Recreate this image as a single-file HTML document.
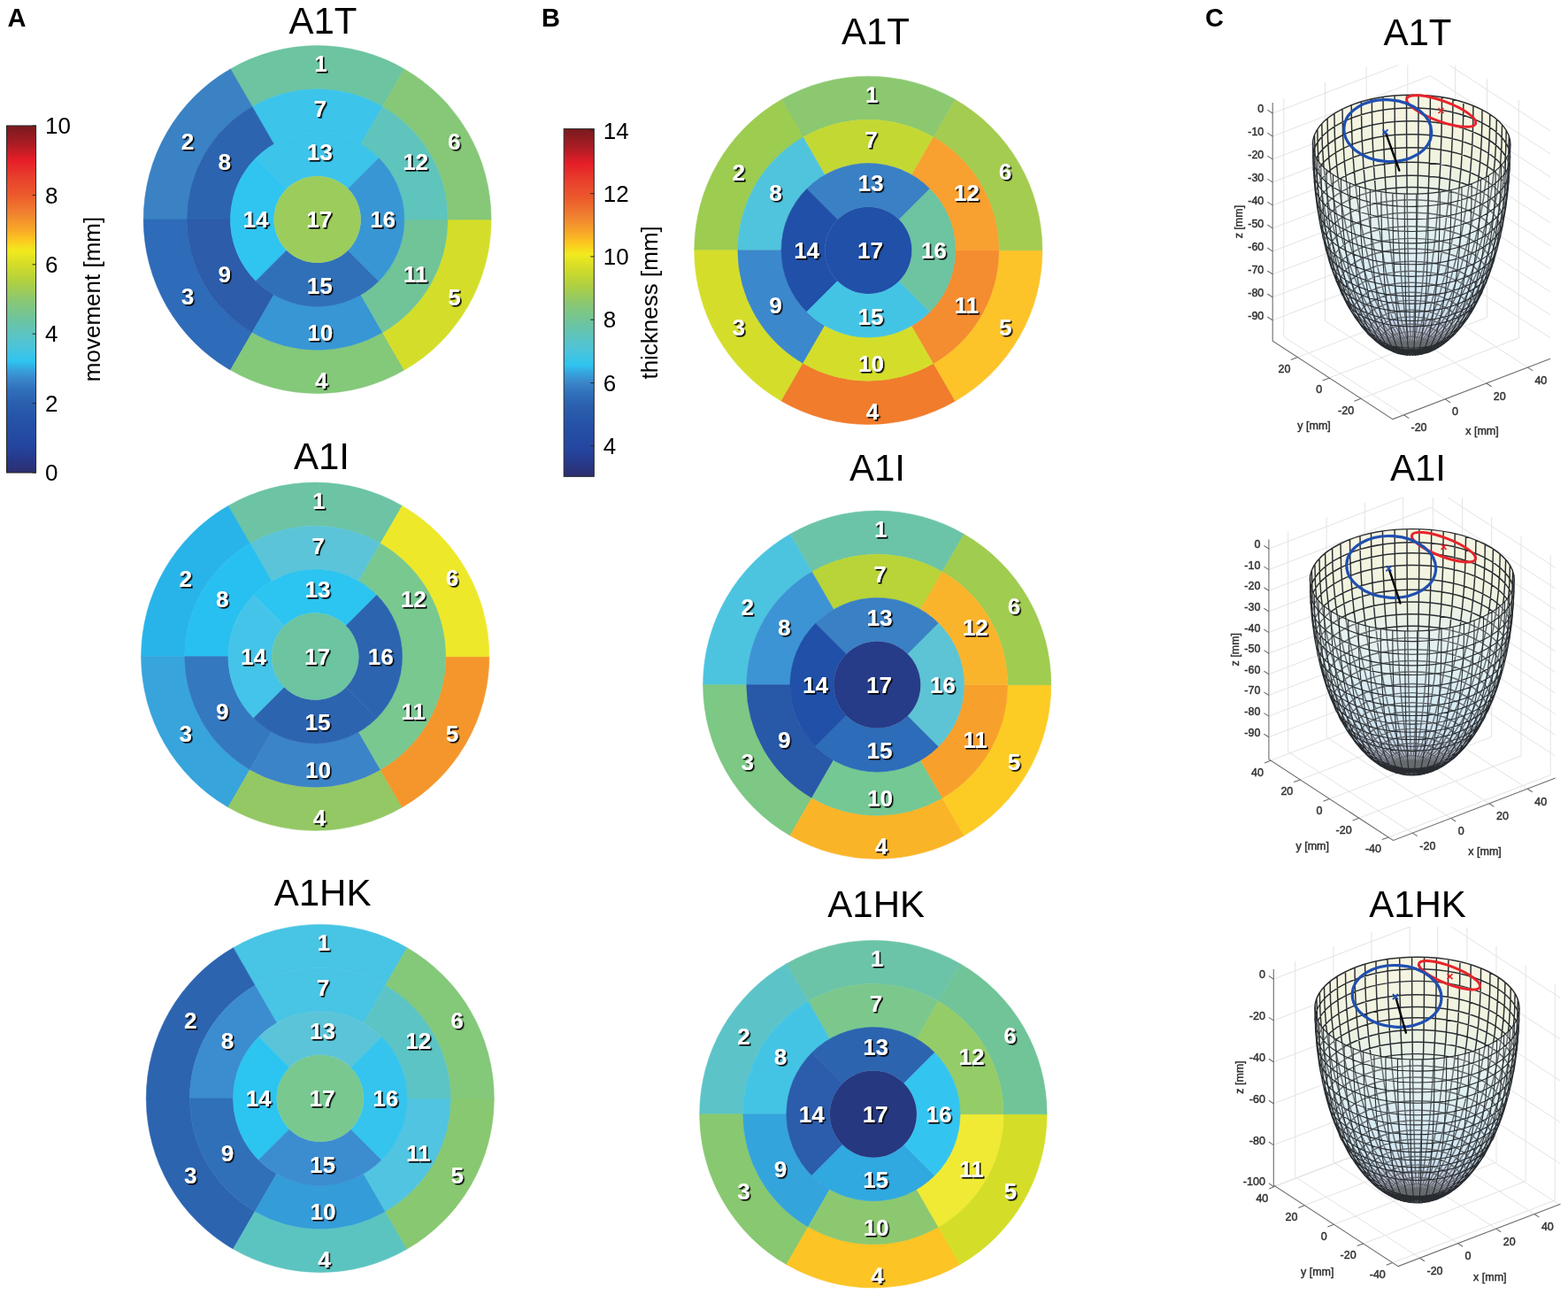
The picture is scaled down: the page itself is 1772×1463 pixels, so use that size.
<!DOCTYPE html><html><head><meta charset="utf-8"><style>
html,body{margin:0;padding:0;background:#fff;}
svg{display:block;}
.lab{font-family:"Liberation Sans",Arial,sans-serif;font-size:26px;font-weight:bold;fill:#fff;text-anchor:middle;
     paint-order:normal;filter:url(#sh);}
.tit{font-family:"Liberation Sans",Arial,sans-serif;font-size:42px;fill:#000;text-anchor:middle;}
.pl{font-family:"Liberation Sans",Arial,sans-serif;font-size:29px;font-weight:bold;fill:#000;}
.tick{font-family:"Liberation Sans",Arial,sans-serif;font-size:26px;fill:#000;}
.ax{font-family:"Liberation Sans",Arial,sans-serif;font-size:12.5px;fill:#303030;stroke:#303030;stroke-width:0.45px;}
</style></head><body><svg width="1772" height="1463" viewBox="0 0 1772 1463">
<defs><filter id="sh" x="-20%" y="-20%" width="140%" height="140%"><feDropShadow dx="1.6" dy="1.6" stdDeviation="0.5" flood-color="#000" flood-opacity="1"/></filter></defs><rect width="100%" height="100%" fill="#ffffff"/>
<text x="8.5" y="30.3" class="pl">A</text>
<text x="612" y="30.3" class="pl">B</text>
<text x="1362" y="30.3" class="pl">C</text>
<path d="M456.85,77.91A196.40,196.40 0 0 0 260.45,77.91L285.00,120.43A147.30,147.30 0 0 1 432.30,120.43Z" fill="#6cc4a0" stroke="#6cc4a0" stroke-width="0.6"/>
<path d="M260.45,77.91A196.40,196.40 0 0 0 162.25,248.00L211.35,248.00A147.30,147.30 0 0 1 285.00,120.43Z" fill="#3a82c4" stroke="#3a82c4" stroke-width="0.6"/>
<path d="M162.25,248.00A196.40,196.40 0 0 0 260.45,418.09L285.00,375.57A147.30,147.30 0 0 1 211.35,248.00Z" fill="#2e6bb8" stroke="#2e6bb8" stroke-width="0.6"/>
<path d="M260.45,418.09A196.40,196.40 0 0 0 456.85,418.09L432.30,375.57A147.30,147.30 0 0 1 285.00,375.57Z" fill="#84c87a" stroke="#84c87a" stroke-width="0.6"/>
<path d="M456.85,418.09A196.40,196.40 0 0 0 555.05,248.00L505.95,248.00A147.30,147.30 0 0 1 432.30,375.57Z" fill="#d4de2a" stroke="#d4de2a" stroke-width="0.6"/>
<path d="M555.05,248.00A196.40,196.40 0 0 0 456.85,77.91L432.30,120.43A147.30,147.30 0 0 1 505.95,248.00Z" fill="#86c878" stroke="#86c878" stroke-width="0.6"/>
<path d="M432.30,120.43A147.30,147.30 0 0 0 285.00,120.43L309.55,162.96A98.20,98.20 0 0 1 407.75,162.96Z" fill="#3cc4ea" stroke="#3cc4ea" stroke-width="0.6"/>
<path d="M285.00,120.43A147.30,147.30 0 0 0 211.35,248.00L260.45,248.00A98.20,98.20 0 0 1 309.55,162.96Z" fill="#2c64b0" stroke="#2c64b0" stroke-width="0.6"/>
<path d="M211.35,248.00A147.30,147.30 0 0 0 285.00,375.57L309.55,333.04A98.20,98.20 0 0 1 260.45,248.00Z" fill="#2c5caa" stroke="#2c5caa" stroke-width="0.6"/>
<path d="M285.00,375.57A147.30,147.30 0 0 0 432.30,375.57L407.75,333.04A98.20,98.20 0 0 1 309.55,333.04Z" fill="#3896d4" stroke="#3896d4" stroke-width="0.6"/>
<path d="M432.30,375.57A147.30,147.30 0 0 0 505.95,248.00L456.85,248.00A98.20,98.20 0 0 1 407.75,333.04Z" fill="#70c498" stroke="#70c498" stroke-width="0.6"/>
<path d="M505.95,248.00A147.30,147.30 0 0 0 432.30,120.43L407.75,162.96A98.20,98.20 0 0 1 456.85,248.00Z" fill="#5ec4bc" stroke="#5ec4bc" stroke-width="0.6"/>
<path d="M428.09,178.56A98.20,98.20 0 0 0 289.21,178.56L323.93,213.28A49.10,49.10 0 0 1 393.37,213.28Z" fill="#3cc4ea" stroke="#3cc4ea" stroke-width="0.6"/>
<path d="M289.21,178.56A98.20,98.20 0 0 0 289.21,317.44L323.93,282.72A49.10,49.10 0 0 1 323.93,213.28Z" fill="#30c4f0" stroke="#30c4f0" stroke-width="0.6"/>
<path d="M289.21,317.44A98.20,98.20 0 0 0 428.09,317.44L393.37,282.72A49.10,49.10 0 0 1 323.93,282.72Z" fill="#3070b8" stroke="#3070b8" stroke-width="0.6"/>
<path d="M428.09,317.44A98.20,98.20 0 0 0 428.09,178.56L393.37,213.28A49.10,49.10 0 0 1 393.37,282.72Z" fill="#3896d4" stroke="#3896d4" stroke-width="0.6"/>
<circle cx="358.65" cy="248.00" r="49.10" fill="#9ccc5c"/>
<text x="362.6" y="81.3" class="lab">1</text>
<text x="212.1" y="169.3" class="lab">2</text>
<text x="212.1" y="343.8" class="lab">3</text>
<text x="363.3" y="438.8" class="lab">4</text>
<text x="513.5" y="344.5" class="lab">5</text>
<text x="513.3" y="168.6" class="lab">6</text>
<text x="361.8" y="131.8" class="lab">7</text>
<text x="253.7" y="191.9" class="lab">8</text>
<text x="253.7" y="318.8" class="lab">9</text>
<text x="361.8" y="384.9" class="lab">10</text>
<text x="469.5" y="318.9" class="lab">11</text>
<text x="469.6" y="191.8" class="lab">12</text>
<text x="361.3" y="181.2" class="lab">13</text>
<text x="288.9" y="257.4" class="lab">14</text>
<text x="361.3" y="331.7" class="lab">15</text>
<text x="432.6" y="257.4" class="lab">16</text>
<text x="360.8" y="257.3" class="lab">17</text>
<path d="M454.50,571.44A196.60,196.60 0 0 0 257.90,571.44L282.48,614.00A147.45,147.45 0 0 1 429.93,614.00Z" fill="#6cc4a4" stroke="#6cc4a4" stroke-width="0.6"/>
<path d="M257.90,571.44A196.60,196.60 0 0 0 159.60,741.70L208.75,741.70A147.45,147.45 0 0 1 282.48,614.00Z" fill="#28b4e8" stroke="#28b4e8" stroke-width="0.6"/>
<path d="M159.60,741.70A196.60,196.60 0 0 0 257.90,911.96L282.47,869.40A147.45,147.45 0 0 1 208.75,741.70Z" fill="#38a4dc" stroke="#38a4dc" stroke-width="0.6"/>
<path d="M257.90,911.96A196.60,196.60 0 0 0 454.50,911.96L429.93,869.40A147.45,147.45 0 0 1 282.47,869.40Z" fill="#94c864" stroke="#94c864" stroke-width="0.6"/>
<path d="M454.50,911.96A196.60,196.60 0 0 0 552.80,741.70L503.65,741.70A147.45,147.45 0 0 1 429.93,869.40Z" fill="#f4962c" stroke="#f4962c" stroke-width="0.6"/>
<path d="M552.80,741.70A196.60,196.60 0 0 0 454.50,571.44L429.93,614.00A147.45,147.45 0 0 1 503.65,741.70Z" fill="#eee82a" stroke="#eee82a" stroke-width="0.6"/>
<path d="M429.93,614.00A147.45,147.45 0 0 0 282.48,614.00L307.05,656.57A98.30,98.30 0 0 1 405.35,656.57Z" fill="#5cc4d8" stroke="#5cc4d8" stroke-width="0.6"/>
<path d="M282.48,614.00A147.45,147.45 0 0 0 208.75,741.70L257.90,741.70A98.30,98.30 0 0 1 307.05,656.57Z" fill="#28c0f0" stroke="#28c0f0" stroke-width="0.6"/>
<path d="M208.75,741.70A147.45,147.45 0 0 0 282.47,869.40L307.05,826.83A98.30,98.30 0 0 1 257.90,741.70Z" fill="#3478c0" stroke="#3478c0" stroke-width="0.6"/>
<path d="M282.47,869.40A147.45,147.45 0 0 0 429.93,869.40L405.35,826.83A98.30,98.30 0 0 1 307.05,826.83Z" fill="#3c84c8" stroke="#3c84c8" stroke-width="0.6"/>
<path d="M429.93,869.40A147.45,147.45 0 0 0 503.65,741.70L454.50,741.70A98.30,98.30 0 0 1 405.35,826.83Z" fill="#78c890" stroke="#78c890" stroke-width="0.6"/>
<path d="M503.65,741.70A147.45,147.45 0 0 0 429.93,614.00L405.35,656.57A98.30,98.30 0 0 1 454.50,741.70Z" fill="#78c890" stroke="#78c890" stroke-width="0.6"/>
<path d="M425.71,672.19A98.30,98.30 0 0 0 286.69,672.19L321.45,706.95A49.15,49.15 0 0 1 390.95,706.95Z" fill="#2cc4f0" stroke="#2cc4f0" stroke-width="0.6"/>
<path d="M286.69,672.19A98.30,98.30 0 0 0 286.69,811.21L321.45,776.45A49.15,49.15 0 0 1 321.45,706.95Z" fill="#44c4e8" stroke="#44c4e8" stroke-width="0.6"/>
<path d="M286.69,811.21A98.30,98.30 0 0 0 425.71,811.21L390.95,776.45A49.15,49.15 0 0 1 321.45,776.45Z" fill="#2c64b0" stroke="#2c64b0" stroke-width="0.6"/>
<path d="M425.71,811.21A98.30,98.30 0 0 0 425.71,672.19L390.95,706.95A49.15,49.15 0 0 1 390.95,776.45Z" fill="#2c64b0" stroke="#2c64b0" stroke-width="0.6"/>
<circle cx="356.20" cy="741.70" r="49.15" fill="#6cc4a0"/>
<text x="360.2" y="575.0" class="lab">1</text>
<text x="209.7" y="663.0" class="lab">2</text>
<text x="209.7" y="837.5" class="lab">3</text>
<text x="360.9" y="932.5" class="lab">4</text>
<text x="511.1" y="838.2" class="lab">5</text>
<text x="510.9" y="662.3" class="lab">6</text>
<text x="359.4" y="625.5" class="lab">7</text>
<text x="251.3" y="685.6" class="lab">8</text>
<text x="251.3" y="812.5" class="lab">9</text>
<text x="359.4" y="878.6" class="lab">10</text>
<text x="467.1" y="812.6" class="lab">11</text>
<text x="467.2" y="685.5" class="lab">12</text>
<text x="358.9" y="674.9" class="lab">13</text>
<text x="286.5" y="751.1" class="lab">14</text>
<text x="358.9" y="825.4" class="lab">15</text>
<text x="430.2" y="751.1" class="lab">16</text>
<text x="358.4" y="751.0" class="lab">17</text>
<path d="M460.05,1070.73A196.50,196.50 0 0 0 263.55,1070.73L288.11,1113.27A147.38,147.38 0 0 1 435.49,1113.27Z" fill="#48c4e4" stroke="#48c4e4" stroke-width="0.6"/>
<path d="M263.55,1070.73A196.50,196.50 0 0 0 165.30,1240.90L214.43,1240.90A147.38,147.38 0 0 1 288.11,1113.27Z" fill="#2c64b0" stroke="#2c64b0" stroke-width="0.6"/>
<path d="M165.30,1240.90A196.50,196.50 0 0 0 263.55,1411.07L288.11,1368.53A147.38,147.38 0 0 1 214.43,1240.90Z" fill="#2c64b0" stroke="#2c64b0" stroke-width="0.6"/>
<path d="M263.55,1411.07A196.50,196.50 0 0 0 460.05,1411.07L435.49,1368.53A147.38,147.38 0 0 1 288.11,1368.53Z" fill="#5cc4c0" stroke="#5cc4c0" stroke-width="0.6"/>
<path d="M460.05,1411.07A196.50,196.50 0 0 0 558.30,1240.90L509.18,1240.90A147.38,147.38 0 0 1 435.49,1368.53Z" fill="#88c870" stroke="#88c870" stroke-width="0.6"/>
<path d="M558.30,1240.90A196.50,196.50 0 0 0 460.05,1070.73L435.49,1113.27A147.38,147.38 0 0 1 509.18,1240.90Z" fill="#84c87a" stroke="#84c87a" stroke-width="0.6"/>
<path d="M435.49,1113.27A147.38,147.38 0 0 0 288.11,1113.27L312.68,1155.81A98.25,98.25 0 0 1 410.93,1155.81Z" fill="#48c4e4" stroke="#48c4e4" stroke-width="0.6"/>
<path d="M288.11,1113.27A147.38,147.38 0 0 0 214.43,1240.90L263.55,1240.90A98.25,98.25 0 0 1 312.68,1155.81Z" fill="#3c8cd0" stroke="#3c8cd0" stroke-width="0.6"/>
<path d="M214.43,1240.90A147.38,147.38 0 0 0 288.11,1368.53L312.67,1325.99A98.25,98.25 0 0 1 263.55,1240.90Z" fill="#3070b8" stroke="#3070b8" stroke-width="0.6"/>
<path d="M288.11,1368.53A147.38,147.38 0 0 0 435.49,1368.53L410.93,1325.99A98.25,98.25 0 0 1 312.67,1325.99Z" fill="#349cd8" stroke="#349cd8" stroke-width="0.6"/>
<path d="M435.49,1368.53A147.38,147.38 0 0 0 509.18,1240.90L460.05,1240.90A98.25,98.25 0 0 1 410.93,1325.99Z" fill="#50c4e0" stroke="#50c4e0" stroke-width="0.6"/>
<path d="M509.18,1240.90A147.38,147.38 0 0 0 435.49,1113.27L410.93,1155.81A98.25,98.25 0 0 1 460.05,1240.90Z" fill="#5cc4c4" stroke="#5cc4c4" stroke-width="0.6"/>
<path d="M431.27,1171.43A98.25,98.25 0 0 0 292.33,1171.43L327.06,1206.16A49.12,49.12 0 0 1 396.54,1206.16Z" fill="#5cc4d8" stroke="#5cc4d8" stroke-width="0.6"/>
<path d="M292.33,1171.43A98.25,98.25 0 0 0 292.33,1310.37L327.06,1275.64A49.12,49.12 0 0 1 327.06,1206.16Z" fill="#2cc4f0" stroke="#2cc4f0" stroke-width="0.6"/>
<path d="M292.33,1310.37A98.25,98.25 0 0 0 431.27,1310.37L396.54,1275.64A49.12,49.12 0 0 1 327.06,1275.64Z" fill="#3c8cd0" stroke="#3c8cd0" stroke-width="0.6"/>
<path d="M431.27,1310.37A98.25,98.25 0 0 0 431.27,1171.43L396.54,1206.16A49.12,49.12 0 0 1 396.54,1275.64Z" fill="#34c4ee" stroke="#34c4ee" stroke-width="0.6"/>
<circle cx="361.80" cy="1240.90" r="49.12" fill="#78c890"/>
<text x="365.8" y="1074.2" class="lab">1</text>
<text x="215.3" y="1162.2" class="lab">2</text>
<text x="215.3" y="1336.7" class="lab">3</text>
<text x="366.5" y="1431.7" class="lab">4</text>
<text x="516.7" y="1337.4" class="lab">5</text>
<text x="516.5" y="1161.5" class="lab">6</text>
<text x="365.0" y="1124.7" class="lab">7</text>
<text x="256.9" y="1184.8" class="lab">8</text>
<text x="256.9" y="1311.7" class="lab">9</text>
<text x="365.0" y="1377.8" class="lab">10</text>
<text x="472.7" y="1311.8" class="lab">11</text>
<text x="472.8" y="1184.7" class="lab">12</text>
<text x="364.5" y="1174.1" class="lab">13</text>
<text x="292.1" y="1250.3" class="lab">14</text>
<text x="364.5" y="1324.6" class="lab">15</text>
<text x="435.8" y="1250.3" class="lab">16</text>
<text x="364.0" y="1250.2" class="lab">17</text>
<path d="M1079.60,112.54A196.60,196.60 0 0 0 883.00,112.54L907.58,155.10A147.45,147.45 0 0 1 1055.02,155.10Z" fill="#8cc870" stroke="#8cc870" stroke-width="0.6"/>
<path d="M883.00,112.54A196.60,196.60 0 0 0 784.70,282.80L833.85,282.80A147.45,147.45 0 0 1 907.58,155.10Z" fill="#9ccc50" stroke="#9ccc50" stroke-width="0.6"/>
<path d="M784.70,282.80A196.60,196.60 0 0 0 883.00,453.06L907.57,410.50A147.45,147.45 0 0 1 833.85,282.80Z" fill="#d4de2a" stroke="#d4de2a" stroke-width="0.6"/>
<path d="M883.00,453.06A196.60,196.60 0 0 0 1079.60,453.06L1055.02,410.50A147.45,147.45 0 0 1 907.57,410.50Z" fill="#f07c2c" stroke="#f07c2c" stroke-width="0.6"/>
<path d="M1079.60,453.06A196.60,196.60 0 0 0 1177.90,282.80L1128.75,282.80A147.45,147.45 0 0 1 1055.02,410.50Z" fill="#fcc428" stroke="#fcc428" stroke-width="0.6"/>
<path d="M1177.90,282.80A196.60,196.60 0 0 0 1079.60,112.54L1055.02,155.10A147.45,147.45 0 0 1 1128.75,282.80Z" fill="#a4cc50" stroke="#a4cc50" stroke-width="0.6"/>
<path d="M1055.02,155.10A147.45,147.45 0 0 0 907.58,155.10L932.15,197.67A98.30,98.30 0 0 1 1030.45,197.67Z" fill="#c4d834" stroke="#c4d834" stroke-width="0.6"/>
<path d="M907.58,155.10A147.45,147.45 0 0 0 833.85,282.80L883.00,282.80A98.30,98.30 0 0 1 932.15,197.67Z" fill="#50c4dc" stroke="#50c4dc" stroke-width="0.6"/>
<path d="M833.85,282.80A147.45,147.45 0 0 0 907.57,410.50L932.15,367.93A98.30,98.30 0 0 1 883.00,282.80Z" fill="#3c88cc" stroke="#3c88cc" stroke-width="0.6"/>
<path d="M907.57,410.50A147.45,147.45 0 0 0 1055.02,410.50L1030.45,367.93A98.30,98.30 0 0 1 932.15,367.93Z" fill="#d4de2a" stroke="#d4de2a" stroke-width="0.6"/>
<path d="M1055.02,410.50A147.45,147.45 0 0 0 1128.75,282.80L1079.60,282.80A98.30,98.30 0 0 1 1030.45,367.93Z" fill="#f48c30" stroke="#f48c30" stroke-width="0.6"/>
<path d="M1128.75,282.80A147.45,147.45 0 0 0 1055.02,155.10L1030.45,197.67A98.30,98.30 0 0 1 1079.60,282.80Z" fill="#f8a030" stroke="#f8a030" stroke-width="0.6"/>
<path d="M1050.81,213.29A98.30,98.30 0 0 0 911.79,213.29L946.55,248.05A49.15,49.15 0 0 1 1016.05,248.05Z" fill="#3a80c4" stroke="#3a80c4" stroke-width="0.6"/>
<path d="M911.79,213.29A98.30,98.30 0 0 0 911.79,352.31L946.55,317.55A49.15,49.15 0 0 1 946.55,248.05Z" fill="#2050a8" stroke="#2050a8" stroke-width="0.6"/>
<path d="M911.79,352.31A98.30,98.30 0 0 0 1050.81,352.31L1016.05,317.55A49.15,49.15 0 0 1 946.55,317.55Z" fill="#44c4e4" stroke="#44c4e4" stroke-width="0.6"/>
<path d="M1050.81,352.31A98.30,98.30 0 0 0 1050.81,213.29L1016.05,248.05A49.15,49.15 0 0 1 1016.05,317.55Z" fill="#6cc4a0" stroke="#6cc4a0" stroke-width="0.6"/>
<circle cx="981.30" cy="282.80" r="49.15" fill="#2050a8"/>
<text x="985.3" y="116.1" class="lab">1</text>
<text x="834.8" y="204.1" class="lab">2</text>
<text x="834.8" y="378.6" class="lab">3</text>
<text x="986.0" y="473.6" class="lab">4</text>
<text x="1136.2" y="379.3" class="lab">5</text>
<text x="1136.0" y="203.4" class="lab">6</text>
<text x="984.5" y="166.6" class="lab">7</text>
<text x="876.4" y="226.7" class="lab">8</text>
<text x="876.4" y="353.6" class="lab">9</text>
<text x="984.5" y="419.7" class="lab">10</text>
<text x="1092.2" y="353.7" class="lab">11</text>
<text x="1092.3" y="226.6" class="lab">12</text>
<text x="984.0" y="216.0" class="lab">13</text>
<text x="911.6" y="292.2" class="lab">14</text>
<text x="984.0" y="366.5" class="lab">15</text>
<text x="1055.3" y="292.2" class="lab">16</text>
<text x="983.5" y="292.1" class="lab">17</text>
<path d="M1089.50,603.44A196.60,196.60 0 0 0 892.90,603.44L917.48,646.00A147.45,147.45 0 0 1 1064.92,646.00Z" fill="#6cc4a8" stroke="#6cc4a8" stroke-width="0.6"/>
<path d="M892.90,603.44A196.60,196.60 0 0 0 794.60,773.70L843.75,773.70A147.45,147.45 0 0 1 917.48,646.00Z" fill="#4cc4e0" stroke="#4cc4e0" stroke-width="0.6"/>
<path d="M794.60,773.70A196.60,196.60 0 0 0 892.90,943.96L917.48,901.40A147.45,147.45 0 0 1 843.75,773.70Z" fill="#7cc884" stroke="#7cc884" stroke-width="0.6"/>
<path d="M892.90,943.96A196.60,196.60 0 0 0 1089.50,943.96L1064.92,901.40A147.45,147.45 0 0 1 917.48,901.40Z" fill="#fab428" stroke="#fab428" stroke-width="0.6"/>
<path d="M1089.50,943.96A196.60,196.60 0 0 0 1187.80,773.70L1138.65,773.70A147.45,147.45 0 0 1 1064.92,901.40Z" fill="#fccc24" stroke="#fccc24" stroke-width="0.6"/>
<path d="M1187.80,773.70A196.60,196.60 0 0 0 1089.50,603.44L1064.92,646.00A147.45,147.45 0 0 1 1138.65,773.70Z" fill="#a0cc50" stroke="#a0cc50" stroke-width="0.6"/>
<path d="M1064.92,646.00A147.45,147.45 0 0 0 917.48,646.00L942.05,688.57A98.30,98.30 0 0 1 1040.35,688.57Z" fill="#b8d438" stroke="#b8d438" stroke-width="0.6"/>
<path d="M917.48,646.00A147.45,147.45 0 0 0 843.75,773.70L892.90,773.70A98.30,98.30 0 0 1 942.05,688.57Z" fill="#3c94d4" stroke="#3c94d4" stroke-width="0.6"/>
<path d="M843.75,773.70A147.45,147.45 0 0 0 917.48,901.40L942.05,858.83A98.30,98.30 0 0 1 892.90,773.70Z" fill="#2858a8" stroke="#2858a8" stroke-width="0.6"/>
<path d="M917.48,901.40A147.45,147.45 0 0 0 1064.92,901.40L1040.35,858.83A98.30,98.30 0 0 1 942.05,858.83Z" fill="#74c894" stroke="#74c894" stroke-width="0.6"/>
<path d="M1064.92,901.40A147.45,147.45 0 0 0 1138.65,773.70L1089.50,773.70A98.30,98.30 0 0 1 1040.35,858.83Z" fill="#f8a02c" stroke="#f8a02c" stroke-width="0.6"/>
<path d="M1138.65,773.70A147.45,147.45 0 0 0 1064.92,646.00L1040.35,688.57A98.30,98.30 0 0 1 1089.50,773.70Z" fill="#fab42c" stroke="#fab42c" stroke-width="0.6"/>
<path d="M1060.71,704.19A98.30,98.30 0 0 0 921.69,704.19L956.45,738.95A49.15,49.15 0 0 1 1025.95,738.95Z" fill="#3a80c4" stroke="#3a80c4" stroke-width="0.6"/>
<path d="M921.69,704.19A98.30,98.30 0 0 0 921.69,843.21L956.45,808.45A49.15,49.15 0 0 1 956.45,738.95Z" fill="#2050a8" stroke="#2050a8" stroke-width="0.6"/>
<path d="M921.69,843.21A98.30,98.30 0 0 0 1060.71,843.21L1025.95,808.45A49.15,49.15 0 0 1 956.45,808.45Z" fill="#2c6cb8" stroke="#2c6cb8" stroke-width="0.6"/>
<path d="M1060.71,843.21A98.30,98.30 0 0 0 1060.71,704.19L1025.95,738.95A49.15,49.15 0 0 1 1025.95,808.45Z" fill="#5cc4d4" stroke="#5cc4d4" stroke-width="0.6"/>
<circle cx="991.20" cy="773.70" r="49.15" fill="#263c88"/>
<text x="995.2" y="607.0" class="lab">1</text>
<text x="844.7" y="695.0" class="lab">2</text>
<text x="844.7" y="869.5" class="lab">3</text>
<text x="995.9" y="964.5" class="lab">4</text>
<text x="1146.1" y="870.2" class="lab">5</text>
<text x="1145.9" y="694.3" class="lab">6</text>
<text x="994.4" y="657.5" class="lab">7</text>
<text x="886.3" y="717.6" class="lab">8</text>
<text x="886.3" y="844.5" class="lab">9</text>
<text x="994.4" y="910.6" class="lab">10</text>
<text x="1102.1" y="844.6" class="lab">11</text>
<text x="1102.2" y="717.5" class="lab">12</text>
<text x="993.9" y="706.9" class="lab">13</text>
<text x="921.5" y="783.1" class="lab">14</text>
<text x="993.9" y="857.4" class="lab">15</text>
<text x="1065.2" y="783.1" class="lab">16</text>
<text x="993.4" y="783.0" class="lab">17</text>
<path d="M1085.00,1088.74A196.20,196.20 0 0 0 888.80,1088.74L913.33,1131.21A147.15,147.15 0 0 1 1060.47,1131.21Z" fill="#6cc4a8" stroke="#6cc4a8" stroke-width="0.6"/>
<path d="M888.80,1088.74A196.20,196.20 0 0 0 790.70,1258.65L839.75,1258.65A147.15,147.15 0 0 1 913.33,1131.21Z" fill="#5cc4c8" stroke="#5cc4c8" stroke-width="0.6"/>
<path d="M790.70,1258.65A196.20,196.20 0 0 0 888.80,1428.56L913.32,1386.09A147.15,147.15 0 0 1 839.75,1258.65Z" fill="#88c870" stroke="#88c870" stroke-width="0.6"/>
<path d="M888.80,1428.56A196.20,196.20 0 0 0 1085.00,1428.56L1060.47,1386.09A147.15,147.15 0 0 1 913.32,1386.09Z" fill="#fcc424" stroke="#fcc424" stroke-width="0.6"/>
<path d="M1085.00,1428.56A196.20,196.20 0 0 0 1183.10,1258.65L1134.05,1258.65A147.15,147.15 0 0 1 1060.47,1386.09Z" fill="#d4de28" stroke="#d4de28" stroke-width="0.6"/>
<path d="M1183.10,1258.65A196.20,196.20 0 0 0 1085.00,1088.74L1060.47,1131.21A147.15,147.15 0 0 1 1134.05,1258.65Z" fill="#70c498" stroke="#70c498" stroke-width="0.6"/>
<path d="M1060.47,1131.21A147.15,147.15 0 0 0 913.33,1131.21L937.85,1173.69A98.10,98.10 0 0 1 1035.95,1173.69Z" fill="#7cc88c" stroke="#7cc88c" stroke-width="0.6"/>
<path d="M913.33,1131.21A147.15,147.15 0 0 0 839.75,1258.65L888.80,1258.65A98.10,98.10 0 0 1 937.85,1173.69Z" fill="#44c4e4" stroke="#44c4e4" stroke-width="0.6"/>
<path d="M839.75,1258.65A147.15,147.15 0 0 0 913.32,1386.09L937.85,1343.61A98.10,98.10 0 0 1 888.80,1258.65Z" fill="#34a4dc" stroke="#34a4dc" stroke-width="0.6"/>
<path d="M913.32,1386.09A147.15,147.15 0 0 0 1060.47,1386.09L1035.95,1343.61A98.10,98.10 0 0 1 937.85,1343.61Z" fill="#8cc870" stroke="#8cc870" stroke-width="0.6"/>
<path d="M1060.47,1386.09A147.15,147.15 0 0 0 1134.05,1258.65L1085.00,1258.65A98.10,98.10 0 0 1 1035.95,1343.61Z" fill="#f0ea34" stroke="#f0ea34" stroke-width="0.6"/>
<path d="M1134.05,1258.65A147.15,147.15 0 0 0 1060.47,1131.21L1035.95,1173.69A98.10,98.10 0 0 1 1085.00,1258.65Z" fill="#94cc68" stroke="#94cc68" stroke-width="0.6"/>
<path d="M1056.27,1189.28A98.10,98.10 0 0 0 917.53,1189.28L952.22,1223.97A49.05,49.05 0 0 1 1021.58,1223.97Z" fill="#2c64b0" stroke="#2c64b0" stroke-width="0.6"/>
<path d="M917.53,1189.28A98.10,98.10 0 0 0 917.53,1328.02L952.22,1293.33A49.05,49.05 0 0 1 952.22,1223.97Z" fill="#2c5cac" stroke="#2c5cac" stroke-width="0.6"/>
<path d="M917.53,1328.02A98.10,98.10 0 0 0 1056.27,1328.02L1021.58,1293.33A49.05,49.05 0 0 1 952.22,1293.33Z" fill="#30a8e0" stroke="#30a8e0" stroke-width="0.6"/>
<path d="M1056.27,1328.02A98.10,98.10 0 0 0 1056.27,1189.28L1021.58,1223.97A49.05,49.05 0 0 1 1021.58,1293.33Z" fill="#34c4f0" stroke="#34c4f0" stroke-width="0.6"/>
<circle cx="986.90" cy="1258.65" r="49.05" fill="#263880"/>
<text x="990.9" y="1092.0" class="lab">1</text>
<text x="840.4" y="1180.0" class="lab">2</text>
<text x="840.4" y="1354.5" class="lab">3</text>
<text x="991.6" y="1449.5" class="lab">4</text>
<text x="1141.8" y="1355.2" class="lab">5</text>
<text x="1141.6" y="1179.3" class="lab">6</text>
<text x="990.1" y="1142.5" class="lab">7</text>
<text x="882.0" y="1202.6" class="lab">8</text>
<text x="882.0" y="1329.5" class="lab">9</text>
<text x="990.1" y="1395.6" class="lab">10</text>
<text x="1097.8" y="1329.6" class="lab">11</text>
<text x="1097.9" y="1202.5" class="lab">12</text>
<text x="989.6" y="1191.9" class="lab">13</text>
<text x="917.2" y="1268.1" class="lab">14</text>
<text x="989.6" y="1342.4" class="lab">15</text>
<text x="1060.9" y="1268.1" class="lab">16</text>
<text x="989.1" y="1268.0" class="lab">17</text>
<text x="365.0" y="37.5" class="tit">A1T</text>
<text x="363.4" y="530.2" class="tit">A1I</text>
<text x="364.6" y="1022.9" class="tit">A1HK</text>
<text x="989.4" y="50.2" class="tit">A1T</text>
<text x="991.5" y="542.6" class="tit">A1I</text>
<text x="990.2" y="1035.9" class="tit">A1HK</text>
<text x="1602.0" y="50.6" class="tit">A1T</text>
<text x="1602.5" y="543.0" class="tit">A1I</text>
<text x="1602.0" y="1036.0" class="tit">A1HK</text>
<defs><linearGradient id="cb7" x1="0" y1="0" x2="0" y2="1"><stop offset="0.000" stop-color="#781a1e"/><stop offset="0.050" stop-color="#a81c24"/><stop offset="0.100" stop-color="#e61e28"/><stop offset="0.150" stop-color="#e8402c"/><stop offset="0.200" stop-color="#ec5a2c"/><stop offset="0.250" stop-color="#f08030"/><stop offset="0.300" stop-color="#f8a828"/><stop offset="0.330" stop-color="#fcc820"/><stop offset="0.360" stop-color="#f2ea1e"/><stop offset="0.400" stop-color="#d4dc28"/><stop offset="0.450" stop-color="#b0d040"/><stop offset="0.500" stop-color="#8cc870"/><stop offset="0.530" stop-color="#7cc688"/><stop offset="0.560" stop-color="#6cc4a0"/><stop offset="0.600" stop-color="#5cc4c0"/><stop offset="0.640" stop-color="#4ac4dc"/><stop offset="0.680" stop-color="#2ec4f0"/><stop offset="0.700" stop-color="#36a6e0"/><stop offset="0.730" stop-color="#3a86ca"/><stop offset="0.760" stop-color="#3070bc"/><stop offset="0.800" stop-color="#2a5fae"/><stop offset="0.850" stop-color="#2552a6"/><stop offset="0.920" stop-color="#2446a0"/><stop offset="0.960" stop-color="#27398a"/><stop offset="1.000" stop-color="#2c2f6e"/></linearGradient></defs>
<rect x="7.5" y="142.0" width="33.1" height="392.0" fill="url(#cb7)" stroke="#262626" stroke-width="1"/>
<line x1="36.6" y1="534.0" x2="40.6" y2="534.0" stroke="#262626" stroke-width="1"/>
<text x="51.1" y="543.2" class="tick">0</text>
<line x1="36.6" y1="455.6" x2="40.6" y2="455.6" stroke="#262626" stroke-width="1"/>
<text x="51.1" y="464.8" class="tick">2</text>
<line x1="36.6" y1="377.2" x2="40.6" y2="377.2" stroke="#262626" stroke-width="1"/>
<text x="51.1" y="386.4" class="tick">4</text>
<line x1="36.6" y1="298.8" x2="40.6" y2="298.8" stroke="#262626" stroke-width="1"/>
<text x="51.1" y="308.0" class="tick">6</text>
<line x1="36.6" y1="220.4" x2="40.6" y2="220.4" stroke="#262626" stroke-width="1"/>
<text x="51.1" y="229.6" class="tick">8</text>
<line x1="36.6" y1="142.0" x2="40.6" y2="142.0" stroke="#262626" stroke-width="1"/>
<text x="51.1" y="151.2" class="tick">10</text>
<text transform="translate(112.5,338.0) rotate(-90)" text-anchor="middle" class="tick">movement [mm]</text>
<defs><linearGradient id="cb637" x1="0" y1="0" x2="0" y2="1"><stop offset="0.000" stop-color="#781a1e"/><stop offset="0.050" stop-color="#a81c24"/><stop offset="0.100" stop-color="#e61e28"/><stop offset="0.150" stop-color="#e8402c"/><stop offset="0.200" stop-color="#ec5a2c"/><stop offset="0.250" stop-color="#f08030"/><stop offset="0.300" stop-color="#f8a828"/><stop offset="0.330" stop-color="#fcc820"/><stop offset="0.360" stop-color="#f2ea1e"/><stop offset="0.400" stop-color="#d4dc28"/><stop offset="0.450" stop-color="#b0d040"/><stop offset="0.500" stop-color="#8cc870"/><stop offset="0.530" stop-color="#7cc688"/><stop offset="0.560" stop-color="#6cc4a0"/><stop offset="0.600" stop-color="#5cc4c0"/><stop offset="0.640" stop-color="#4ac4dc"/><stop offset="0.680" stop-color="#2ec4f0"/><stop offset="0.700" stop-color="#36a6e0"/><stop offset="0.730" stop-color="#3a86ca"/><stop offset="0.760" stop-color="#3070bc"/><stop offset="0.800" stop-color="#2a5fae"/><stop offset="0.850" stop-color="#2552a6"/><stop offset="0.920" stop-color="#2446a0"/><stop offset="0.960" stop-color="#27398a"/><stop offset="1.000" stop-color="#2c2f6e"/></linearGradient></defs>
<rect x="637.2" y="145.6" width="34.09999999999991" height="392.69999999999993" fill="url(#cb637)" stroke="#262626" stroke-width="1"/>
<line x1="667.3" y1="503.7" x2="671.3" y2="503.7" stroke="#262626" stroke-width="1"/>
<text x="681.8" y="512.9" class="tick">4</text>
<line x1="667.3" y1="432.5" x2="671.3" y2="432.5" stroke="#262626" stroke-width="1"/>
<text x="681.8" y="441.7" class="tick">6</text>
<line x1="667.3" y1="361.2" x2="671.3" y2="361.2" stroke="#262626" stroke-width="1"/>
<text x="681.8" y="370.4" class="tick">8</text>
<line x1="667.3" y1="289.9" x2="671.3" y2="289.9" stroke="#262626" stroke-width="1"/>
<text x="681.8" y="299.1" class="tick">10</text>
<line x1="667.3" y1="218.7" x2="671.3" y2="218.7" stroke="#262626" stroke-width="1"/>
<text x="681.8" y="227.9" class="tick">12</text>
<line x1="667.3" y1="147.4" x2="671.3" y2="147.4" stroke="#262626" stroke-width="1"/>
<text x="681.8" y="156.6" class="tick">14</text>
<text transform="translate(743,341.9) rotate(-90)" text-anchor="middle" class="tick">thickness [mm]</text>
<defs><clipPath id="gc147"><rect x="1300" y="73.5" width="472" height="600"/></clipPath></defs>
<path d="M1450.8,380.4L1450.8,111.2M1586.5,468.8L1450.8,380.4M1497.5,362.5L1497.5,93.3M1633.1,450.9L1497.5,362.5M1544.1,344.6L1544.1,75.4M1679.8,433.0L1544.1,344.6M1590.8,326.7L1590.8,57.5M1726.4,415.1L1590.8,326.7M1716.3,381.9L1716.3,112.7M1538.1,450.3L1716.3,381.9M1680.5,358.6L1680.5,89.4M1502.3,426.9L1680.5,358.6M1644.7,335.2L1644.7,66.1M1466.5,403.6L1644.7,335.2M1438.2,128.0L1616.4,59.6M1616.4,59.6L1752.1,148.0M1438.2,154.0L1616.4,85.6M1616.4,85.6L1752.1,174.0M1438.2,179.9L1616.4,111.6M1616.4,111.6L1752.1,200.0M1438.2,205.9L1616.4,137.6M1616.4,137.6L1752.1,226.0M1438.2,231.9L1616.4,163.5M1616.4,163.5L1752.1,251.9M1438.2,257.9L1616.4,189.5M1616.4,189.5L1752.1,277.9M1438.2,283.9L1616.4,215.5M1616.4,215.5L1752.1,303.9M1438.2,309.8L1616.4,241.5M1616.4,241.5L1752.1,329.9M1438.2,335.8L1616.4,267.5M1616.4,267.5L1752.1,355.9M1438.2,361.8L1616.4,293.4M1616.4,293.4L1752.1,381.8" stroke="#e3e3e3" stroke-width="1" fill="none" clip-path="url(#gc147)"/>
<path d="M1438.2,116.0L1438.2,385.2L1573.9,473.6L1752.1,405.2" stroke="#6e6e6e" stroke-width="1.1" fill="none"/>
<path d="M1438.2,128.0L1432.3,124.1M1438.2,154.0L1432.3,150.1M1438.2,179.9L1432.3,176.1M1438.2,205.9L1432.3,202.1M1438.2,231.9L1432.3,228.1M1438.2,257.9L1432.3,254.0M1438.2,283.9L1432.3,280.0M1438.2,309.8L1432.3,306.0M1438.2,335.8L1432.3,332.0M1438.2,361.8L1432.3,358.0M1586.5,468.8L1592.4,472.6M1633.1,450.9L1639.0,454.7M1679.8,433.0L1685.7,436.8M1726.4,415.1L1732.3,418.9M1538.1,450.3L1530.4,453.2M1502.3,426.9L1494.6,429.9M1466.5,403.6L1458.8,406.6" stroke="#6e6e6e" stroke-width="1.1" fill="none"/>
<text x="1428.3" y="126.6" class="ax" text-anchor="end">0</text>
<text x="1428.3" y="152.6" class="ax" text-anchor="end">-10</text>
<text x="1428.3" y="178.6" class="ax" text-anchor="end">-20</text>
<text x="1428.3" y="204.6" class="ax" text-anchor="end">-30</text>
<text x="1428.3" y="230.6" class="ax" text-anchor="end">-40</text>
<text x="1428.3" y="256.5" class="ax" text-anchor="end">-50</text>
<text x="1428.3" y="282.5" class="ax" text-anchor="end">-60</text>
<text x="1428.3" y="308.5" class="ax" text-anchor="end">-70</text>
<text x="1428.3" y="334.5" class="ax" text-anchor="end">-80</text>
<text x="1428.3" y="360.5" class="ax" text-anchor="end">-90</text>
<text x="1594.5" y="487.3" class="ax">-20</text>
<text x="1641.1" y="469.4" class="ax">0</text>
<text x="1687.8" y="451.5" class="ax">20</text>
<text x="1734.4" y="433.6" class="ax">40</text>
<text x="1530.1" y="467.8" class="ax" text-anchor="end">-20</text>
<text x="1494.3" y="444.4" class="ax" text-anchor="end">0</text>
<text x="1458.5" y="421.1" class="ax" text-anchor="end">20</text>
<text x="1675.0" y="491.4" class="ax" text-anchor="middle">x [mm]</text>
<text x="1485.1" y="485.4" class="ax" text-anchor="middle">y [mm]</text>
<text transform="translate(1404.2,250.6) rotate(-90)" class="ax" text-anchor="middle">z [mm]</text>
<defs><linearGradient id="eg163" gradientUnits="userSpaceOnUse" x1="0" y1="107.3" x2="0" y2="401.6"><stop offset="0" stop-color="#f7f5e2"/><stop offset="0.25" stop-color="#f0f3df"/><stop offset="0.5" stop-color="#dff0ee"/><stop offset="0.75" stop-color="#c8e4f2"/><stop offset="0.86" stop-color="#bcd4ec"/><stop offset="0.93" stop-color="#9c9cc0"/><stop offset="1" stop-color="#2a2a48"/></linearGradient></defs>
<path d="M1483.4,163.2A111.7,55.9 0 0 1 1706.9,163.2A111.7,238.4 0 0 1 1483.4,163.2Z" fill="url(#eg163)"/>
<path d="M1588.1,394.5A7.0,3.5 0 0 1 1602.2,394.5M1581.2,393.1A14.0,7.0 0 0 1 1609.2,393.1M1574.2,390.8A20.9,10.5 0 0 1 1616.1,390.8M1567.4,387.7A27.8,13.9 0 0 1 1622.9,387.7M1560.6,383.6A34.5,17.3 0 0 1 1629.7,383.6M1554.0,378.7A41.1,20.6 0 0 1 1636.3,378.7M1547.6,372.9A47.6,23.8 0 0 1 1642.7,372.9M1541.3,366.3A53.8,26.9 0 0 1 1649.0,366.3M1535.3,358.9A59.9,29.9 0 0 1 1655.0,358.9M1529.5,350.7A65.7,32.8 0 0 1 1660.8,350.7M1524.0,341.8A71.2,35.6 0 0 1 1666.4,341.8M1518.7,332.1A76.5,38.2 0 0 1 1671.6,332.1M1513.7,321.8A81.4,40.7 0 0 1 1676.6,321.8M1509.1,310.9A86.1,43.0 0 0 1 1681.2,310.9M1504.8,299.4A90.4,45.2 0 0 1 1685.5,299.4M1500.8,287.4A94.3,47.2 0 0 1 1689.5,287.4M1497.3,274.8A97.9,49.0 0 0 1 1693.1,274.8M1494.1,261.9A101.1,50.5 0 0 1 1696.3,261.9M1491.3,248.5A103.9,51.9 0 0 1 1699.0,248.5M1488.9,234.8A106.3,53.1 0 0 1 1701.4,234.8M1487.0,220.8A108.2,54.1 0 0 1 1703.4,220.8M1485.4,206.6A109.7,54.9 0 0 1 1704.9,206.6M1484.3,192.2A110.8,55.4 0 0 1 1706.0,192.2M1483.7,177.7A111.5,55.7 0 0 1 1706.7,177.7M1483.4,163.2A111.7,55.9 0 0 1 1706.9,163.2M1595.2,394.9C1656.8,393.4 1706.7,288.4 1706.7,160.4M1595.2,394.9C1656.0,389.7 1705.3,281.7 1705.3,153.7M1595.2,394.9C1654.3,386.1 1702.2,275.1 1702.2,147.1M1595.2,394.9C1651.7,382.6 1697.5,268.8 1697.5,140.8M1595.2,394.9C1648.3,379.3 1691.3,262.8 1691.3,134.8M1595.2,394.9C1644.1,376.2 1683.8,257.2 1683.8,129.2M1595.2,394.9C1639.2,373.3 1675.0,252.1 1675.0,124.1M1595.2,394.9C1633.7,370.9 1664.9,247.6 1664.9,119.6M1595.2,394.9C1627.6,368.7 1653.9,243.7 1653.9,115.7M1595.2,394.9C1621.1,366.9 1642.0,240.5 1642.0,112.5M1595.2,394.9C1614.1,365.6 1629.5,238.0 1629.5,110.0M1595.2,394.9C1606.9,364.7 1616.4,236.3 1616.4,108.4M1595.2,394.9C1599.5,364.2 1603.0,235.5 1603.0,107.5M1595.2,394.9C1592.1,364.1 1589.5,235.4 1589.5,107.4M1595.2,394.9C1584.7,364.5 1576.1,236.1 1576.1,108.2M1595.2,394.9C1577.4,365.4 1563.0,237.7 1563.0,109.7M1595.2,394.9C1570.4,366.7 1550.3,240.0 1550.3,112.0M1595.2,394.9C1563.8,368.4 1538.3,243.1 1538.3,115.1M1595.2,394.9C1557.6,370.5 1527.2,246.9 1527.2,118.9M1595.2,394.9C1552.0,372.9 1517.0,251.3 1517.0,123.3M1595.2,394.9C1547.0,375.7 1507.9,256.3 1507.9,128.3M1595.2,394.9C1542.7,378.7 1500.1,261.8 1500.1,133.8M1595.2,394.9C1539.2,382.0 1493.8,267.8 1493.8,139.8M1595.2,394.9C1536.4,385.5 1488.8,274.0 1488.8,146.0M1595.2,394.9C1534.6,389.1 1485.5,280.6 1485.5,152.6M1595.2,394.9C1533.6,392.8 1483.7,287.3 1483.7,159.3" stroke="#2a2e32" stroke-width="1.45" fill="none"/>
<path d="M1483.4,163.2A111.7,55.9 0 0 0 1706.9,163.2A111.7,238.4 0 0 1 1483.4,163.2Z" fill="#eef6f8" fill-opacity="0.3"/>
<path d="M1622.9,387.7A27.8,13.9 0 0 1 1567.4,387.7M1649.0,366.3A53.8,26.9 0 0 1 1541.3,366.3M1671.6,332.1A76.5,38.2 0 0 1 1518.7,332.1M1676.6,321.8A81.4,40.7 0 0 1 1513.7,321.8M1681.2,310.9A86.1,43.0 0 0 1 1509.1,310.9M1685.5,299.4A90.4,45.2 0 0 1 1504.8,299.4M1689.5,287.4A94.3,47.2 0 0 1 1500.8,287.4M1693.1,274.8A97.9,49.0 0 0 1 1497.3,274.8M1696.3,261.9A101.1,50.5 0 0 1 1494.1,261.9M1699.0,248.5A103.9,51.9 0 0 1 1491.3,248.5M1701.4,234.8A106.3,53.1 0 0 1 1488.9,234.8M1703.4,220.8A108.2,54.1 0 0 1 1487.0,220.8M1704.9,206.6A109.7,54.9 0 0 1 1485.4,206.6M1706.0,192.2A110.8,55.4 0 0 1 1484.3,192.2M1706.7,177.7A111.5,55.7 0 0 1 1483.7,177.7M1706.9,163.2A111.7,55.9 0 0 1 1483.4,163.2M1595.2,394.9C1546.2,413.7 1506.5,325.2 1506.5,197.2M1595.2,394.9C1551.1,416.5 1515.4,330.3 1515.4,202.3M1595.2,394.9C1556.6,419.0 1525.4,334.8 1525.4,206.8M1595.2,394.9C1562.7,421.2 1536.4,338.7 1536.4,210.7M1595.2,394.9C1569.3,422.9 1548.3,341.9 1548.3,213.9M1595.2,394.9C1576.2,424.3 1560.9,344.4 1560.9,216.4M1595.2,394.9C1583.4,425.2 1573.9,346.0 1573.9,218.0M1595.2,394.9C1590.8,425.7 1587.3,346.9 1587.3,218.9M1595.2,394.9C1598.3,425.8 1600.8,347.0 1600.8,219.0M1595.2,394.9C1605.7,425.3 1614.2,346.2 1614.2,218.2M1595.2,394.9C1612.9,424.5 1627.3,344.7 1627.3,216.7M1595.2,394.9C1619.9,423.2 1640.0,342.4 1640.0,214.4M1595.2,394.9C1626.6,421.5 1652.0,339.3 1652.0,211.3M1595.2,394.9C1632.7,419.4 1663.2,335.5 1663.2,207.5M1595.2,394.9C1638.4,417.0 1673.4,331.1 1673.4,203.1M1595.2,394.9C1643.3,414.2 1682.4,326.1 1682.4,198.1M1595.2,394.9C1647.6,411.2 1690.2,320.6 1690.2,192.6M1595.2,394.9C1651.2,407.9 1696.6,314.6 1696.6,186.6M1595.2,394.9C1653.9,404.4 1701.5,308.3 1701.5,180.4M1595.2,394.9C1655.7,400.8 1704.8,301.8 1704.8,173.8M1595.2,394.9C1656.7,397.1 1706.6,295.1 1706.6,167.1M1595.2,394.9C1533.5,396.5 1483.6,294.0 1483.6,166.0M1595.2,394.9C1534.4,400.2 1485.1,300.7 1485.1,172.7M1595.2,394.9C1536.1,403.8 1488.2,307.3 1488.2,179.3M1595.2,394.9C1538.6,407.3 1492.8,313.6 1492.8,185.6M1595.2,394.9C1542.0,410.6 1499.0,319.6 1499.0,191.6" stroke="#282c30" stroke-width="1.1" fill="none"/>
<ellipse cx="1628.7" cy="125.5" rx="41.4" ry="11.5" transform="rotate(20 1628.7 125.5)" fill="none" stroke="#e8232a" stroke-width="3"/>
<path d="M1625.5,122.0L1631.5,128.0M1625.5,128.0L1631.5,122.0" stroke="#e8232a" stroke-width="1.6"/>
<ellipse cx="1568.3" cy="147.6" rx="49.5" ry="34.8" transform="rotate(4 1568.3 147.6)" fill="none" stroke="#1f4fb0" stroke-width="3.2"/>
<path d="M1566.5,151.4L1581.3,192.5" stroke="#000" stroke-width="2.4" stroke-linecap="round"/>
<path d="M1562.5,146.3L1568.5,152.3M1562.5,152.3L1568.5,146.3" stroke="#1f4fb0" stroke-width="1.8"/>
<defs><clipPath id="gc639"><rect x="1300" y="562.2" width="472" height="600"/></clipPath></defs>
<path d="M1455.7,849.4L1455.7,601.2M1596.3,941.1L1455.7,849.4M1499.1,832.8L1499.1,584.6M1639.7,924.4L1499.1,832.8M1542.4,816.2L1542.4,568.0M1683.0,907.8L1542.4,816.2M1585.7,799.6L1585.7,551.3M1726.3,891.2L1585.7,799.6M1752.2,875.6L1752.2,627.3M1569.0,945.9L1752.2,875.6M1719.0,853.9L1719.0,605.7M1535.7,924.2L1719.0,853.9M1685.7,832.3L1685.7,584.0M1502.5,902.6L1685.7,832.3M1652.5,810.6L1652.5,562.4M1469.3,880.9L1652.5,810.6M1619.3,788.9L1619.3,540.7M1436.0,859.2L1619.3,788.9M1433.9,620.0L1617.1,549.7M1617.1,549.7L1757.7,641.3M1433.9,643.6L1617.1,573.3M1617.1,573.3L1757.7,664.9M1433.9,667.3L1617.1,597.0M1617.1,597.0L1757.7,688.6M1433.9,690.9L1617.1,620.6M1617.1,620.6L1757.7,712.2M1433.9,714.6L1617.1,644.3M1617.1,644.3L1757.7,735.9M1433.9,738.2L1617.1,667.9M1617.1,667.9L1757.7,759.5M1433.9,761.8L1617.1,691.5M1617.1,691.5L1757.7,783.2M1433.9,785.5L1617.1,715.2M1617.1,715.2L1757.7,806.8M1433.9,809.1L1617.1,738.8M1617.1,738.8L1757.7,830.4M1433.9,832.8L1617.1,762.5M1617.1,762.5L1757.7,854.1" stroke="#e3e3e3" stroke-width="1" fill="none" clip-path="url(#gc639)"/>
<path d="M1433.9,609.6L1433.9,857.8L1574.5,949.4L1757.7,879.1" stroke="#6e6e6e" stroke-width="1.1" fill="none"/>
<path d="M1433.9,620.0L1428.4,616.4M1433.9,643.6L1428.4,640.1M1433.9,667.3L1428.4,663.7M1433.9,690.9L1428.4,687.3M1433.9,714.6L1428.4,711.0M1433.9,738.2L1428.4,734.6M1433.9,761.8L1428.4,758.3M1433.9,785.5L1428.4,781.9M1433.9,809.1L1428.4,805.6M1433.9,832.8L1428.4,829.2M1596.3,941.1L1601.8,944.6M1639.7,924.4L1645.1,928.0M1683.0,907.8L1688.5,911.4M1726.3,891.2L1731.8,894.8M1569.0,945.9L1561.8,948.6M1535.7,924.2L1528.6,927.0M1502.5,902.6L1495.4,905.3M1469.3,880.9L1462.1,883.6M1436.0,859.2L1428.9,862.0" stroke="#6e6e6e" stroke-width="1.1" fill="none"/>
<text x="1424.4" y="618.9" class="ax" text-anchor="end">0</text>
<text x="1424.4" y="642.6" class="ax" text-anchor="end">-10</text>
<text x="1424.4" y="666.2" class="ax" text-anchor="end">-20</text>
<text x="1424.4" y="689.8" class="ax" text-anchor="end">-30</text>
<text x="1424.4" y="713.5" class="ax" text-anchor="end">-40</text>
<text x="1424.4" y="737.1" class="ax" text-anchor="end">-50</text>
<text x="1424.4" y="760.8" class="ax" text-anchor="end">-60</text>
<text x="1424.4" y="784.4" class="ax" text-anchor="end">-70</text>
<text x="1424.4" y="808.1" class="ax" text-anchor="end">-80</text>
<text x="1424.4" y="831.7" class="ax" text-anchor="end">-90</text>
<text x="1604.3" y="959.6" class="ax">-20</text>
<text x="1647.7" y="942.9" class="ax">0</text>
<text x="1691.0" y="926.3" class="ax">20</text>
<text x="1734.3" y="909.7" class="ax">40</text>
<text x="1561.0" y="963.4" class="ax" text-anchor="end">-40</text>
<text x="1527.7" y="941.7" class="ax" text-anchor="end">-20</text>
<text x="1494.5" y="920.1" class="ax" text-anchor="end">0</text>
<text x="1461.3" y="898.4" class="ax" text-anchor="end">20</text>
<text x="1428.0" y="876.7" class="ax" text-anchor="end">40</text>
<text x="1678.1" y="966.3" class="ax" text-anchor="middle">x [mm]</text>
<text x="1483.2" y="959.6" class="ax" text-anchor="middle">y [mm]</text>
<text transform="translate(1399.9,733.7) rotate(-90)" class="ax" text-anchor="middle">z [mm]</text>
<defs><linearGradient id="eg655" gradientUnits="userSpaceOnUse" x1="0" y1="597.6" x2="0" y2="875.9"><stop offset="0" stop-color="#f7f5e2"/><stop offset="0.25" stop-color="#f0f3df"/><stop offset="0.5" stop-color="#dff0ee"/><stop offset="0.75" stop-color="#c8e4f2"/><stop offset="0.86" stop-color="#bcd4ec"/><stop offset="0.93" stop-color="#9c9cc0"/><stop offset="1" stop-color="#2a2a48"/></linearGradient></defs>
<path d="M1480.3,655.3A115.5,57.7 0 0 1 1711.3,655.3A115.5,220.6 0 0 1 1480.3,655.3Z" fill="url(#eg655)"/>
<path d="M1588.5,867.8A7.3,3.6 0 0 1 1603.0,867.8M1581.3,866.5A14.5,7.2 0 0 1 1610.3,866.5M1574.1,864.5A21.6,10.8 0 0 1 1617.4,864.5M1567.1,861.5A28.7,14.4 0 0 1 1624.5,861.5M1560.1,857.8A35.7,17.8 0 0 1 1631.5,857.8M1553.3,853.3A42.5,21.3 0 0 1 1638.3,853.3M1546.6,848.0A49.2,24.6 0 0 1 1645.0,848.0M1540.2,841.9A55.6,27.8 0 0 1 1651.4,841.9M1533.9,835.1A61.9,30.9 0 0 1 1657.7,835.1M1527.9,827.6A67.9,33.9 0 0 1 1663.7,827.6M1522.2,819.4A73.6,36.8 0 0 1 1669.4,819.4M1516.7,810.5A79.1,39.5 0 0 1 1674.8,810.5M1511.6,801.1A84.2,42.1 0 0 1 1680.0,801.1M1506.8,791.0A89.0,44.5 0 0 1 1684.8,791.0M1502.4,780.5A93.4,46.7 0 0 1 1689.2,780.5M1498.3,769.4A97.5,48.8 0 0 1 1693.3,769.4M1494.6,757.9A101.2,50.6 0 0 1 1697.0,757.9M1491.3,746.0A104.5,52.2 0 0 1 1700.3,746.0M1488.4,733.7A107.4,53.7 0 0 1 1703.2,733.7M1486.0,721.1A109.8,54.9 0 0 1 1705.6,721.1M1483.9,708.3A111.9,55.9 0 0 1 1707.6,708.3M1482.4,695.2A113.4,56.7 0 0 1 1709.2,695.2M1481.2,682.0A114.6,57.3 0 0 1 1710.4,682.0M1480.5,668.7A115.3,57.6 0 0 1 1711.0,668.7M1480.3,655.3A115.5,57.7 0 0 1 1711.3,655.3M1595.8,868.2C1659.5,866.6 1711.1,770.0 1711.1,652.4M1595.8,868.2C1658.6,862.8 1709.6,763.1 1709.6,645.5M1595.8,868.2C1656.9,859.0 1706.4,756.3 1706.4,638.7M1595.8,868.2C1654.2,855.4 1701.6,749.7 1701.6,632.1M1595.8,868.2C1650.7,852.0 1695.2,743.5 1695.2,625.9M1595.8,868.2C1646.4,848.8 1687.4,737.8 1687.4,620.2M1595.8,868.2C1641.3,845.9 1678.3,732.5 1678.3,614.9M1595.8,868.2C1635.6,843.3 1667.9,727.8 1667.9,610.2M1595.8,868.2C1629.3,841.1 1656.5,723.8 1656.5,606.2M1595.8,868.2C1622.5,839.3 1644.2,720.5 1644.2,602.9M1595.8,868.2C1615.4,837.9 1631.2,718.0 1631.2,600.4M1595.8,868.2C1607.9,836.9 1617.7,716.2 1617.7,598.6M1595.8,868.2C1600.3,836.4 1603.9,715.3 1603.9,597.7M1595.8,868.2C1592.6,836.4 1590.0,715.2 1590.0,597.6M1595.8,868.2C1584.9,836.8 1576.1,716.0 1576.1,598.4M1595.8,868.2C1577.4,837.7 1562.5,717.6 1562.5,600.0M1595.8,868.2C1570.2,839.0 1549.5,720.0 1549.5,602.4M1595.8,868.2C1563.3,840.8 1537.0,723.2 1537.0,605.6M1595.8,868.2C1557.0,842.9 1525.5,727.1 1525.5,609.5M1595.8,868.2C1551.1,845.5 1515.0,731.7 1515.0,614.1M1595.8,868.2C1546.0,848.3 1505.6,736.8 1505.6,619.2M1595.8,868.2C1541.5,851.5 1497.6,742.5 1497.6,624.9M1595.8,868.2C1537.9,854.8 1491.0,748.7 1491.0,631.1M1595.8,868.2C1535.1,858.4 1485.9,755.2 1485.9,637.6M1595.8,868.2C1533.2,862.2 1482.4,761.9 1482.4,644.3M1595.8,868.2C1532.2,866.0 1480.6,768.8 1480.6,651.2" stroke="#2a2e32" stroke-width="1.45" fill="none"/>
<path d="M1480.3,655.3A115.5,57.7 0 0 0 1711.3,655.3A115.5,220.6 0 0 1 1480.3,655.3Z" fill="#eef6f8" fill-opacity="0.3"/>
<path d="M1624.5,861.5A28.7,14.4 0 0 1 1567.1,861.5M1651.4,841.9A55.6,27.8 0 0 1 1540.2,841.9M1674.8,810.5A79.1,39.5 0 0 1 1516.7,810.5M1680.0,801.1A84.2,42.1 0 0 1 1511.6,801.1M1684.8,791.0A89.0,44.5 0 0 1 1506.8,791.0M1689.2,780.5A93.4,46.7 0 0 1 1502.4,780.5M1693.3,769.4A97.5,48.8 0 0 1 1498.3,769.4M1697.0,757.9A101.2,50.6 0 0 1 1494.6,757.9M1700.3,746.0A104.5,52.2 0 0 1 1491.3,746.0M1703.2,733.7A107.4,53.7 0 0 1 1488.4,733.7M1705.6,721.1A109.8,54.9 0 0 1 1486.0,721.1M1707.6,708.3A111.9,55.9 0 0 1 1483.9,708.3M1709.2,695.2A113.4,56.7 0 0 1 1482.4,695.2M1710.4,682.0A114.6,57.3 0 0 1 1481.2,682.0M1711.0,668.7A115.3,57.6 0 0 1 1480.5,668.7M1711.3,655.3A115.5,57.7 0 0 1 1480.3,655.3M1595.8,868.2C1545.2,887.6 1504.2,808.1 1504.2,690.5M1595.8,868.2C1550.2,890.5 1513.3,813.3 1513.3,695.7M1595.8,868.2C1555.9,893.1 1523.7,818.0 1523.7,700.4M1595.8,868.2C1562.2,895.4 1535.1,822.0 1535.1,704.4M1595.8,868.2C1569.0,897.2 1547.3,825.3 1547.3,707.7M1595.8,868.2C1576.2,898.6 1560.3,827.9 1560.3,710.3M1595.8,868.2C1583.7,899.5 1573.8,829.6 1573.8,712.0M1595.8,868.2C1591.3,900.0 1587.7,830.5 1587.7,712.9M1595.8,868.2C1599.0,900.1 1601.6,830.6 1601.6,713.0M1595.8,868.2C1606.6,899.7 1615.5,829.8 1615.5,712.2M1595.8,868.2C1614.1,898.8 1629.0,828.2 1629.0,710.6M1595.8,868.2C1621.4,897.4 1642.1,825.8 1642.1,708.2M1595.8,868.2C1628.2,895.7 1654.5,822.6 1654.5,705.0M1595.8,868.2C1634.6,893.5 1666.1,818.7 1666.1,701.1M1595.8,868.2C1640.4,891.0 1676.6,814.1 1676.6,696.5M1595.8,868.2C1645.6,888.1 1686.0,809.0 1686.0,691.4M1595.8,868.2C1650.0,885.0 1694.0,803.3 1694.0,685.7M1595.8,868.2C1653.7,881.6 1700.6,797.1 1700.6,679.5M1595.8,868.2C1656.5,878.0 1705.7,790.6 1705.7,673.0M1595.8,868.2C1658.4,874.3 1709.2,783.9 1709.2,666.3M1595.8,868.2C1659.4,870.5 1711.0,777.0 1711.0,659.4M1595.8,868.2C1532.1,869.8 1480.5,775.8 1480.5,658.2M1595.8,868.2C1532.9,873.7 1482.0,782.7 1482.0,665.1M1595.8,868.2C1534.7,877.4 1485.2,789.5 1485.2,671.9M1595.8,868.2C1537.4,881.0 1490.0,796.1 1490.0,678.5M1595.8,868.2C1540.9,884.5 1496.4,802.3 1496.4,684.7" stroke="#282c30" stroke-width="1.1" fill="none"/>
<ellipse cx="1631.5" cy="618.2" rx="38.4" ry="10.5" transform="rotate(20.8 1631.5 618.2)" fill="none" stroke="#e8232a" stroke-width="3"/>
<path d="M1628.6,614.9L1634.6,620.9M1628.6,620.9L1634.6,614.9" stroke="#e8232a" stroke-width="1.6"/>
<ellipse cx="1572.2" cy="640.4" rx="50.5" ry="34.8" transform="rotate(4 1572.2 640.4)" fill="none" stroke="#1f4fb0" stroke-width="3.2"/>
<path d="M1570.2,644.3L1582.5,681.4" stroke="#000" stroke-width="2.4" stroke-linecap="round"/>
<path d="M1566.4,639.3L1572.4,645.3M1566.4,645.3L1572.4,639.3" stroke="#1f4fb0" stroke-width="1.8"/>
<defs><clipPath id="gc1124"><rect x="1300" y="1046.9" width="472" height="600"/></clipPath></defs>
<path d="M1463.7,1329.5L1463.7,1085.7M1604.5,1421.2L1463.7,1329.5M1506.9,1312.9L1506.9,1069.1M1647.6,1404.7L1506.9,1312.9M1550.0,1296.4L1550.0,1052.6M1690.8,1388.1L1550.0,1296.4M1593.2,1279.8L1593.2,1036.0M1733.9,1371.5L1593.2,1279.8M1757.2,1356.1L1757.2,1112.3M1573.8,1426.5L1757.2,1356.1M1724.1,1334.5L1724.1,1090.7M1540.7,1404.9L1724.1,1334.5M1691.0,1312.9L1691.0,1069.1M1507.6,1383.3L1691.0,1312.9M1657.9,1291.4L1657.9,1047.5M1474.4,1361.7L1657.9,1291.4M1624.7,1269.8L1624.7,1026.0M1441.3,1340.1L1624.7,1269.8M1439.3,1106.1L1622.8,1035.7M1622.8,1035.7L1763.5,1127.4M1439.3,1152.9L1622.8,1082.6M1622.8,1082.6L1763.5,1174.3M1439.3,1199.8L1622.8,1129.5M1622.8,1129.5L1763.5,1221.2M1439.3,1246.7L1622.8,1176.3M1622.8,1176.3L1763.5,1268.1M1439.3,1293.6L1622.8,1223.2M1622.8,1223.2L1763.5,1314.9M1439.3,1340.5L1622.8,1270.1M1622.8,1270.1L1763.5,1361.8" stroke="#e3e3e3" stroke-width="1" fill="none" clip-path="url(#gc1124)"/>
<path d="M1439.3,1095.0L1439.3,1338.9L1580.1,1430.6L1763.5,1360.2" stroke="#6e6e6e" stroke-width="1.1" fill="none"/>
<path d="M1439.3,1106.1L1433.9,1102.5M1439.3,1152.9L1433.9,1149.4M1439.3,1199.8L1433.9,1196.3M1439.3,1246.7L1433.9,1243.2M1439.3,1293.6L1433.9,1290.0M1439.3,1340.5L1433.9,1336.9M1604.5,1421.2L1609.9,1424.8M1647.6,1404.7L1653.1,1408.2M1690.8,1388.1L1696.2,1391.7M1733.9,1371.5L1739.4,1375.1M1573.8,1426.5L1566.7,1429.2M1540.7,1404.9L1533.6,1407.6M1507.6,1383.3L1500.4,1386.0M1474.4,1361.7L1467.3,1364.5M1441.3,1340.1L1434.2,1342.9" stroke="#6e6e6e" stroke-width="1.1" fill="none"/>
<text x="1429.9" y="1105.0" class="ax" text-anchor="end">0</text>
<text x="1429.9" y="1151.9" class="ax" text-anchor="end">-20</text>
<text x="1429.9" y="1198.8" class="ax" text-anchor="end">-40</text>
<text x="1429.9" y="1245.7" class="ax" text-anchor="end">-60</text>
<text x="1429.9" y="1292.5" class="ax" text-anchor="end">-80</text>
<text x="1429.9" y="1339.4" class="ax" text-anchor="end">-100</text>
<text x="1612.5" y="1439.7" class="ax">-20</text>
<text x="1655.6" y="1423.2" class="ax">0</text>
<text x="1698.8" y="1406.6" class="ax">20</text>
<text x="1741.9" y="1390.0" class="ax">40</text>
<text x="1565.8" y="1444.0" class="ax" text-anchor="end">-40</text>
<text x="1532.7" y="1422.4" class="ax" text-anchor="end">-20</text>
<text x="1499.6" y="1400.8" class="ax" text-anchor="end">0</text>
<text x="1466.4" y="1379.2" class="ax" text-anchor="end">20</text>
<text x="1433.3" y="1357.6" class="ax" text-anchor="end">40</text>
<text x="1683.8" y="1447.4" class="ax" text-anchor="middle">x [mm]</text>
<text x="1488.7" y="1440.7" class="ax" text-anchor="middle">y [mm]</text>
<text transform="translate(1405.3,1216.9) rotate(-90)" class="ax" text-anchor="middle">z [mm]</text>
<defs><linearGradient id="eg1139" gradientUnits="userSpaceOnUse" x1="0" y1="1081.3" x2="0" y2="1359.0"><stop offset="0" stop-color="#f7f5e2"/><stop offset="0.25" stop-color="#f0f3df"/><stop offset="0.5" stop-color="#dff0ee"/><stop offset="0.75" stop-color="#c8e4f2"/><stop offset="0.86" stop-color="#bcd4ec"/><stop offset="0.93" stop-color="#9c9cc0"/><stop offset="1" stop-color="#2a2a48"/></linearGradient></defs>
<path d="M1485.8,1139.1A115.6,57.8 0 0 1 1717.0,1139.1A115.6,219.9 0 0 1 1485.8,1139.1Z" fill="url(#eg1139)"/>
<path d="M1594.2,1350.9A7.3,3.6 0 0 1 1608.7,1350.9M1586.9,1349.6A14.5,7.2 0 0 1 1615.9,1349.6M1579.8,1347.5A21.7,10.8 0 0 1 1623.1,1347.5M1572.7,1344.6A28.7,14.4 0 0 1 1630.2,1344.6M1565.7,1340.9A35.7,17.9 0 0 1 1637.1,1340.9M1558.9,1336.4A42.6,21.3 0 0 1 1644.0,1336.4M1552.2,1331.1A49.2,24.6 0 0 1 1650.6,1331.1M1545.7,1325.0A55.7,27.8 0 0 1 1657.1,1325.0M1539.5,1318.3A61.9,31.0 0 0 1 1663.4,1318.3M1533.5,1310.8A67.9,34.0 0 0 1 1669.4,1310.8M1527.7,1302.6A73.7,36.8 0 0 1 1675.1,1302.6M1522.3,1293.8A79.1,39.6 0 0 1 1680.6,1293.8M1517.2,1284.4A84.3,42.1 0 0 1 1685.7,1284.4M1512.3,1274.4A89.1,44.5 0 0 1 1690.5,1274.4M1507.9,1263.8A93.5,46.8 0 0 1 1694.9,1263.8M1503.8,1252.8A97.6,48.8 0 0 1 1699.0,1252.8M1500.1,1241.3A101.3,50.7 0 0 1 1702.7,1241.3M1496.8,1229.5A104.6,52.3 0 0 1 1706.0,1229.5M1493.9,1217.2A107.5,53.7 0 0 1 1708.9,1217.2M1491.5,1204.7A109.9,55.0 0 0 1 1711.4,1204.7M1489.5,1191.9A112.0,56.0 0 0 1 1713.4,1191.9M1487.9,1178.9A113.6,56.8 0 0 1 1715.0,1178.9M1486.7,1165.7A114.7,57.3 0 0 1 1716.1,1165.7M1486.0,1152.4A115.4,57.7 0 0 1 1716.8,1152.4M1485.8,1139.1A115.6,57.8 0 0 1 1717.0,1139.1M1601.4,1351.3C1665.2,1349.7 1716.9,1253.4 1716.9,1136.2M1601.4,1351.3C1664.3,1345.8 1715.3,1246.4 1715.3,1129.3M1601.4,1351.3C1662.6,1342.1 1712.1,1239.7 1712.1,1122.5M1601.4,1351.3C1659.9,1338.5 1707.3,1233.1 1707.3,1115.9M1601.4,1351.3C1656.4,1335.0 1700.9,1226.9 1700.9,1109.7M1601.4,1351.3C1652.1,1331.8 1693.1,1221.1 1693.1,1103.9M1601.4,1351.3C1647.0,1328.9 1684.0,1215.8 1684.0,1098.7M1601.4,1351.3C1641.3,1326.4 1673.6,1211.2 1673.6,1094.0M1601.4,1351.3C1635.0,1324.1 1662.2,1207.1 1662.2,1090.0M1601.4,1351.3C1628.2,1322.3 1649.9,1203.8 1649.9,1086.7M1601.4,1351.3C1621.0,1320.9 1636.9,1201.3 1636.9,1084.1M1601.4,1351.3C1613.6,1319.9 1623.4,1199.5 1623.4,1082.4M1601.4,1351.3C1605.9,1319.4 1609.6,1198.6 1609.6,1081.5M1601.4,1351.3C1598.2,1319.4 1595.6,1198.6 1595.6,1081.4M1601.4,1351.3C1590.5,1319.8 1581.7,1199.3 1581.7,1082.2M1601.4,1351.3C1583.0,1320.7 1568.1,1200.9 1568.1,1083.8M1601.4,1351.3C1575.8,1322.0 1555.0,1203.4 1555.0,1086.2M1601.4,1351.3C1568.9,1323.8 1542.6,1206.5 1542.6,1089.4M1601.4,1351.3C1562.6,1326.0 1531.0,1210.4 1531.0,1093.3M1601.4,1351.3C1556.7,1328.5 1520.5,1215.0 1520.5,1097.8M1601.4,1351.3C1551.6,1331.3 1511.1,1220.2 1511.1,1103.0M1601.4,1351.3C1547.1,1334.5 1503.1,1225.9 1503.1,1108.7M1601.4,1351.3C1543.5,1337.9 1496.5,1232.0 1496.5,1114.9M1601.4,1351.3C1540.7,1341.5 1491.4,1238.5 1491.4,1121.4M1601.4,1351.3C1538.7,1345.2 1487.9,1245.3 1487.9,1128.1M1601.4,1351.3C1537.7,1349.0 1486.1,1252.2 1486.1,1135.0" stroke="#2a2e32" stroke-width="1.45" fill="none"/>
<path d="M1485.8,1139.1A115.6,57.8 0 0 0 1717.0,1139.1A115.6,219.9 0 0 1 1485.8,1139.1Z" fill="#eef6f8" fill-opacity="0.3"/>
<path d="M1630.2,1344.6A28.7,14.4 0 0 1 1572.7,1344.6M1657.1,1325.0A55.7,27.8 0 0 1 1545.7,1325.0M1680.6,1293.8A79.1,39.6 0 0 1 1522.3,1293.8M1685.7,1284.4A84.3,42.1 0 0 1 1517.2,1284.4M1690.5,1274.4A89.1,44.5 0 0 1 1512.3,1274.4M1694.9,1263.8A93.5,46.8 0 0 1 1507.9,1263.8M1699.0,1252.8A97.6,48.8 0 0 1 1503.8,1252.8M1702.7,1241.3A101.3,50.7 0 0 1 1500.1,1241.3M1706.0,1229.5A104.6,52.3 0 0 1 1496.8,1229.5M1708.9,1217.2A107.5,53.7 0 0 1 1493.9,1217.2M1711.4,1204.7A109.9,55.0 0 0 1 1491.5,1204.7M1713.4,1191.9A112.0,56.0 0 0 1 1489.5,1191.9M1715.0,1178.9A113.6,56.8 0 0 1 1487.9,1178.9M1716.1,1165.7A114.7,57.3 0 0 1 1486.7,1165.7M1716.8,1152.4A115.4,57.7 0 0 1 1486.0,1152.4M1717.0,1139.1A115.6,57.8 0 0 1 1485.8,1139.1M1601.4,1351.3C1550.8,1370.7 1509.7,1291.5 1509.7,1174.3M1601.4,1351.3C1555.8,1373.6 1518.9,1296.8 1518.9,1179.6M1601.4,1351.3C1561.5,1376.2 1529.2,1301.4 1529.2,1184.3M1601.4,1351.3C1567.8,1378.4 1540.6,1305.5 1540.6,1188.3M1601.4,1351.3C1574.6,1380.3 1552.9,1308.8 1552.9,1191.6M1601.4,1351.3C1581.8,1381.7 1565.9,1311.3 1565.9,1194.1M1601.4,1351.3C1589.3,1382.6 1579.4,1313.0 1579.4,1195.9M1601.4,1351.3C1596.9,1383.1 1593.3,1314.0 1593.3,1196.8M1601.4,1351.3C1604.6,1383.2 1607.2,1314.0 1607.2,1196.8M1601.4,1351.3C1612.3,1382.7 1621.1,1313.3 1621.1,1196.1M1601.4,1351.3C1619.8,1381.9 1634.7,1311.6 1634.7,1194.5M1601.4,1351.3C1627.0,1380.5 1647.8,1309.2 1647.8,1192.1M1601.4,1351.3C1633.9,1378.8 1660.2,1306.1 1660.2,1188.9M1601.4,1351.3C1640.3,1376.6 1671.8,1302.2 1671.8,1185.0M1601.4,1351.3C1646.1,1374.1 1682.3,1297.6 1682.3,1180.4M1601.4,1351.3C1651.3,1371.2 1691.7,1292.4 1691.7,1175.2M1601.4,1351.3C1655.7,1368.1 1699.7,1286.7 1699.7,1169.5M1601.4,1351.3C1659.4,1364.7 1706.4,1280.5 1706.4,1163.4M1601.4,1351.3C1662.2,1361.1 1711.4,1274.0 1711.4,1156.9M1601.4,1351.3C1664.1,1357.4 1714.9,1267.3 1714.9,1150.1M1601.4,1351.3C1665.1,1353.5 1716.7,1260.4 1716.7,1143.2M1601.4,1351.3C1537.7,1352.9 1486.0,1259.2 1486.0,1142.0M1601.4,1351.3C1538.5,1356.7 1487.5,1266.1 1487.5,1149.0M1601.4,1351.3C1540.3,1360.5 1490.7,1272.9 1490.7,1155.8M1601.4,1351.3C1542.9,1364.1 1495.5,1279.5 1495.5,1162.3M1601.4,1351.3C1546.5,1367.5 1501.9,1285.7 1501.9,1168.5" stroke="#282c30" stroke-width="1.1" fill="none"/>
<ellipse cx="1638.0" cy="1101.8" rx="36.9" ry="10.0" transform="rotate(21 1638.0 1101.8)" fill="none" stroke="#e8232a" stroke-width="3"/>
<path d="M1635.5,1100.1L1641.5,1106.1M1635.5,1106.1L1641.5,1100.1" stroke="#e8232a" stroke-width="1.6"/>
<ellipse cx="1578.6" cy="1125.4" rx="50.4" ry="34.8" transform="rotate(4 1578.6 1125.4)" fill="none" stroke="#1f4fb0" stroke-width="3.2"/>
<path d="M1577.7,1128.0L1588.9,1166.7" stroke="#000" stroke-width="2.4" stroke-linecap="round"/>
<path d="M1573.9,1123.0L1579.9,1129.0M1573.9,1129.0L1579.9,1123.0" stroke="#1f4fb0" stroke-width="1.8"/>
</svg></body></html>
